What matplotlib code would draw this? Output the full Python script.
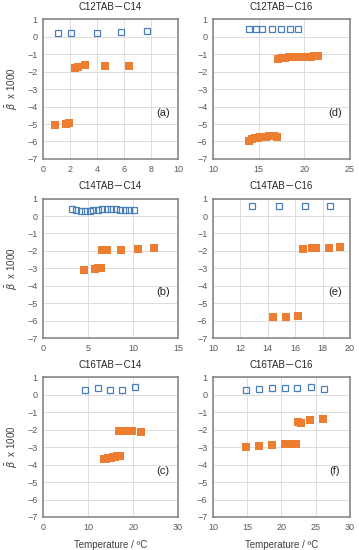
import numpy as np
import matplotlib.pyplot as plt

# panel (a) C12TAB-C14
a_open_x = [1.1, 2.05, 4.0, 5.8, 7.7]
a_open_y = [0.19, 0.19, 0.22, 0.26, 0.32]
a_fill_x = [0.9, 1.7, 1.95, 2.4, 2.6, 3.1, 4.6, 6.4]
a_fill_y = [-5.08, -5.02, -4.93, -1.82, -1.75, -1.62, -1.65, -1.65]

# panel (b) C14TAB-C14
b_open_x = [3.2, 3.7, 4.2, 4.7, 5.2, 5.6, 6.1, 6.6, 7.1, 7.6, 8.1, 8.6, 9.1, 9.6, 10.1]
b_open_y = [0.38, 0.32, 0.3, 0.3, 0.3, 0.32, 0.37, 0.4, 0.4, 0.4, 0.4, 0.37, 0.35, 0.35, 0.37]
b_fill_x = [4.5, 5.8, 6.1, 6.4, 6.6, 6.9, 7.1, 8.7, 10.5, 12.3]
b_fill_y = [-3.1, -3.03, -3.0, -2.97, -1.95, -1.95, -1.97, -1.92, -1.87, -1.83]

# panel (c) C16TAB-C14
c_open_x = [9.4, 12.1, 14.8, 17.6, 20.4]
c_open_y = [0.28, 0.39, 0.3, 0.3, 0.43]
c_fill_x = [13.5, 14.0, 14.5, 15.0, 15.5, 16.0, 16.5, 17.0,
            16.9, 17.3, 17.7, 18.1, 18.5, 18.9, 19.3, 19.7, 21.8]
c_fill_y = [-3.68, -3.66, -3.64, -3.6, -3.57, -3.54, -3.5, -3.5,
            -2.05, -2.07, -2.08, -2.08, -2.09, -2.1, -2.1, -2.1, -2.15]

# panel (d) C12TAB-C16
d_open_x = [14.0, 14.7, 15.4, 16.5, 17.4, 18.4, 19.3]
d_open_y = [0.43, 0.43, 0.43, 0.43, 0.43, 0.43, 0.43]
d_fill_x = [14.0, 14.3, 14.6, 14.9, 15.2, 15.5, 15.8, 16.1, 16.4, 16.7, 17.0,
            17.1, 17.5, 17.9, 18.3, 18.7, 19.1, 19.5, 19.9, 20.3, 20.7, 21.1, 21.5]
d_fill_y = [-5.95, -5.88, -5.82, -5.78, -5.76, -5.74, -5.72, -5.7, -5.68, -5.68, -5.72,
            -1.25, -1.22, -1.2, -1.19, -1.18, -1.17, -1.16, -1.15, -1.15, -1.14, -1.13, -1.12]

# panel (e) C14TAB-C16
e_open_x = [12.85, 14.8, 16.7, 18.55]
e_open_y = [0.58, 0.58, 0.58, 0.6]
e_fill_x = [14.4, 15.3, 16.2, 16.6, 17.2, 17.5, 18.45, 19.3]
e_fill_y = [-5.81, -5.77, -5.73, -1.9, -1.85, -1.83, -1.83, -1.8]

# panel (f) C16TAB-C16
f_open_x = [14.8, 16.7, 18.6, 20.5, 22.3, 24.3, 26.2]
f_open_y = [0.29, 0.32, 0.38, 0.38, 0.38, 0.44, 0.32]
f_fill_x = [14.8, 16.7, 18.6, 20.5, 21.0, 21.5, 22.1, 22.4, 22.8, 24.2, 26.0]
f_fill_y = [-3.0, -2.93, -2.88, -2.83, -2.83, -2.83, -2.83, -1.58, -1.6, -1.43, -1.4]

panels = [
    ("C12TAB－C14", "(a)", (0, 10), [0, 2, 4, 6, 8, 10], a_open_x, a_open_y, a_fill_x, a_fill_y),
    ("C14TAB－C14", "(b)", (0, 15), [0, 5, 10, 15], b_open_x, b_open_y, b_fill_x, b_fill_y),
    ("C16TAB－C14", "(c)", (0, 30), [0, 10, 20, 30], c_open_x, c_open_y, c_fill_x, c_fill_y),
    ("C12TAB－C16", "(d)", (10, 25), [10, 15, 20, 25], d_open_x, d_open_y, d_fill_x, d_fill_y),
    ("C14TAB－C16", "(e)", (10, 20), [10, 12, 14, 16, 18, 20], e_open_x, e_open_y, e_fill_x, e_fill_y),
    ("C16TAB－C16", "(f)", (10, 30), [10, 15, 20, 25, 30], f_open_x, f_open_y, f_fill_x, f_fill_y),
]

fam = ['Liberation Sans', 'Noto Sans CJK JP', 'DejaVu Sans']
plt.rcParams['font.family'] = fam

fig = plt.figure(figsize=(3.59, 5.50), dpi=100)

lefts = [0.120, 0.593]
widths = [0.376, 0.382]
bottoms = [0.711, 0.385, 0.060]
height = 0.254

for i, (title, lab, xl, xt, ox, oy, fx, fy) in enumerate(panels):
    col = i // 3
    row = i % 3
    ax = fig.add_axes([lefts[col], bottoms[row], widths[col], height])
    ax.plot(fx, fy, 's', color='#ED7D31', markersize=5.4, markeredgewidth=0, zorder=3)
    ax.plot(ox, oy, 's', mfc='none', mec='#4A7EBB', markersize=5.0, markeredgewidth=0.9, zorder=4)
    ax.set_xlim(*xl)
    ax.set_ylim(-7, 1)
    ax.set_xticks(xt)
    ax.set_yticks(range(-7, 2))
    ax.grid(True, color='#DDDDDD', linewidth=0.7)
    ax.set_axisbelow(True)
    ax.tick_params(length=0, labelsize=6.5, labelcolor='#595959', pad=4)
    for s in ax.spines.values():
        s.set_color('#808080')
        s.set_linewidth(1.1)
    ax.set_title(title, fontsize=7, color='#262626', pad=7)
    ax.text(0.89, 0.33, lab, transform=ax.transAxes, fontsize=8, color='#262626',
            ha='center', va='center')
    if col == 0:
        ax.set_ylabel(r'$\bar{\beta}$  x 1000', fontsize=7, color='#404040', labelpad=5)
    if row == 2:
        ax.set_xlabel('Temperature / ºC', fontsize=7, color='#404040', labelpad=6)

fig.savefig('out.png', dpi=100)
